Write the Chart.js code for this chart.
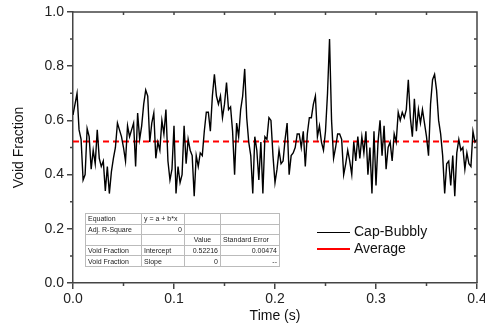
<!DOCTYPE html>
<html>
<head>
<meta charset="utf-8">
<script src="https://cdn.jsdelivr.net/npm/chart.js@4.4.1/dist/chart.umd.min.js"></script>
<style>
  body { margin: 0; background: #fff; }
  #wrap { position: relative; width: 485px; height: 331px; font-family: Arial, "Liberation Sans", sans-serif; }
  #fit { position: absolute; left: 85px; top: 213px; border-collapse: collapse; border: 1px solid #333;
         font-size: 7px; color: #222; table-layout: fixed; }
  #fit td { border: 1px solid #bbb; height: 9.6px; padding: 0 2px; white-space: nowrap; overflow: hidden; line-height: 9px; }
  #fit td.r { text-align: right; }
  #fit td.c { text-align: center; }
  .leg { position: absolute; left: 317px; font-size: 14px; color: #111; }
  .leg span { display: inline-block; width: 33px; vertical-align: middle; margin-right: 4px; }
</style>
</head>
<body>
<div id="wrap">
  <canvas id="chart" width="485" height="331"></canvas>
  <table id="fit">
    <colgroup><col style="width:56px"><col style="width:43px"><col style="width:36px"><col style="width:59px"></colgroup>
    <tr><td>Equation</td><td>y = a + b*x</td><td></td><td></td></tr>
    <tr><td>Adj. R-Square</td><td class="r">0</td><td></td><td></td></tr>
    <tr><td></td><td></td><td class="c">Value</td><td>Standard Error</td></tr>
    <tr><td>Void Fraction</td><td>Intercept</td><td class="r">0.52216</td><td class="r">0.00474</td></tr>
    <tr><td>Void Fraction</td><td>Slope</td><td class="r">0</td><td class="r">--</td></tr>
  </table>
  <div class="leg" style="top:223px"><span style="background:#000;height:1px"></span>Cap-Bubbly</div>
  <div class="leg" style="top:240px"><span style="background:#ff0000;height:2px"></span>Average</div>
</div>
<script>
// sampling step of the signal (s)
const dt = 0.002;

// void fraction, one block per 0.1 s
const voidSeg1 = [0.62,0.66,0.70,0.565,0.53,0.38,0.40,0.57,0.54,0.42,
  0.49,0.44,0.565,0.46,0.43,0.45,0.34,0.43,0.33,0.41,
  0.46,0.50,0.59,0.565,0.54,0.50,0.45,0.58,0.54,0.565,
  0.59,0.43,0.627,0.53,0.58,0.66,0.712,0.69,0.52,0.59,
  0.627,0.46,0.52,0.49,0.60,0.55,0.64,0.45,0.38,0.42];
const voidSeg2 = [0.58,0.33,0.43,0.37,0.40,0.58,0.44,0.53,0.49,0.47,
  0.32,0.47,0.43,0.48,0.47,0.56,0.63,0.63,0.56,0.69,
  0.77,0.69,0.66,0.69,0.61,0.66,0.74,0.64,0.65,0.56,
  0.40,0.59,0.54,0.64,0.69,0.79,0.61,0.52,0.47,0.33,
  0.54,0.49,0.38,0.52,0.33,0.54,0.53,0.61,0.60,0.47];
const voidSeg3 = [0.37,0.42,0.49,0.44,0.45,0.53,0.59,0.40,0.47,0.48,
  0.50,0.55,0.55,0.50,0.56,0.43,0.55,0.61,0.61,0.66,
  0.69,0.54,0.58,0.52,0.49,0.56,0.70,0.90,0.60,0.46,
  0.50,0.55,0.55,0.53,0.40,0.44,0.49,0.45,0.40,0.52,
  0.45,0.54,0.46,0.54,0.48,0.56,0.40,0.50,0.33,0.56];
const voidSeg4 = [0.36,0.52,0.60,0.47,0.58,0.42,0.50,0.52,0.45,0.55,
  0.52,0.63,0.60,0.63,0.61,0.64,0.75,0.61,0.54,0.68,
  0.56,0.64,0.59,0.64,0.59,0.54,0.47,0.66,0.75,0.77,
  0.71,0.60,0.55,0.47,0.33,0.44,0.45,0.36,0.47,0.32,
  0.48,0.53,0.49,0.50,0.42,0.48,0.44,0.43,0.56,0.52,0.53];

const avgValue = 0.52216;
const timeRange = [0, 0.4];
const xMinorTicks = [0.05, 0.15, 0.25, 0.35];
const yMinorTicks = [0.1, 0.3, 0.5, 0.7, 0.9];
const xTopTicks = [0.05, 0.1, 0.15, 0.2, 0.25, 0.3, 0.35];
const yRightTicks = [0.1, 0.2, 0.3, 0.4, 0.5, 0.6, 0.7, 0.8, 0.9];

const axisColor = '#444';
const font = 'Arial, "Liberation Sans", sans-serif';

const signal = [...voidSeg1, ...voidSeg2, ...voidSeg3, ...voidSeg4]
  .map((v, i) => ({ x: +(i * dt).toFixed(4), y: v }));
const average = timeRange.map(t => ({ x: t, y: avgValue }));

// box top/right plus minor and mirrored ticks
const frame = {
  id: 'frame',
  afterDraw(chart) {
    const { ctx, chartArea: a, scales: { x, y } } = chart;
    ctx.save();
    ctx.strokeStyle = axisColor;
    ctx.lineWidth = 1.5;
    ctx.beginPath();
    ctx.moveTo(a.left, a.top); ctx.lineTo(a.right, a.top); ctx.lineTo(a.right, a.bottom);
    xMinorTicks.forEach(v => { const p = x.getPixelForValue(v); ctx.moveTo(p, a.bottom); ctx.lineTo(p, a.bottom + 3); });
    yMinorTicks.forEach(v => { const p = y.getPixelForValue(v); ctx.moveTo(a.left, p); ctx.lineTo(a.left - 3, p); });
    xTopTicks.forEach(v => { const p = x.getPixelForValue(v); ctx.moveTo(p, a.top); ctx.lineTo(p, a.top + 3); });
    yRightTicks.forEach(v => { const p = y.getPixelForValue(v); ctx.moveTo(a.right, p); ctx.lineTo(a.right - 3, p); });
    ctx.stroke();
    ctx.restore();
  }
};

new Chart(document.getElementById('chart'), {
  type: 'line',
  data: {
    datasets: [{
      label: 'Cap-Bubbly',
      data: signal,
      borderColor: '#000',
      borderWidth: 1.4,
      pointRadius: 0,
      tension: 0
    }, {
      label: 'Average',
      data: average,
      borderColor: '#ff0000',
      borderWidth: 2,
      borderDash: [6, 4],
      pointRadius: 0
    }]
  },
  options: {
    responsive: false,
    animation: false,
    layout: { padding: { top: 12, right: 8, left: 0, bottom: 0 } },
    plugins: { legend: { display: false }, tooltip: { enabled: false } },
    scales: {
      x: {
        type: 'linear', min: 0, max: 0.4,
        ticks: { stepSize: 0.1, color: '#222', font: { family: font, size: 14 }, padding: 2, maxRotation: 0,
                 callback: v => v.toFixed(1) },
        grid: { drawOnChartArea: false, tickLength: 6, color: axisColor, lineWidth: 1.5 },
        border: { color: axisColor, width: 1.5 },
        title: { display: true, text: 'Time (s)', color: '#111', font: { family: font, size: 14 }, padding: { bottom: 6 } },
        afterFit: s => { s.height = 48; s.paddingLeft = 0; s.paddingRight = 0; }
      },
      y: {
        min: 0, max: 1,
        ticks: { stepSize: 0.2, color: '#222', font: { family: font, size: 14 }, padding: 3,
                 callback: v => v.toFixed(1) },
        grid: { drawOnChartArea: false, tickLength: 6, color: axisColor, lineWidth: 1.5 },
        border: { color: axisColor, width: 1.5 },
        title: { display: true, text: 'Void Fraction', color: '#111', font: { family: font, size: 14 }, padding: { top: 11 } },
        afterFit: s => { s.width = 73; s.paddingTop = 0; s.paddingBottom = 0; }
      }
    }
  },
  plugins: [frame]
});
</script>
</body>
</html>
